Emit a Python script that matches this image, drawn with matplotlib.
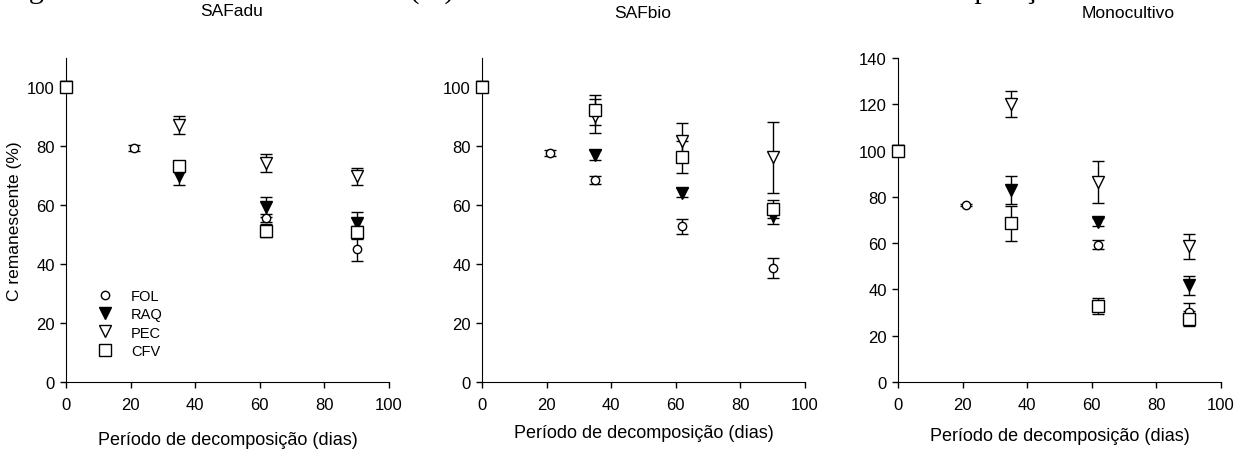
import numpy as np
import matplotlib.pyplot as plt

plt.rcParams['font.family'] = ['Liberation Sans', 'DejaVu Sans']

dias = [0, 21, 35, 62, 90]
nan = np.nan

paineis = ['SAFadu', 'SAFbio', 'Monocultivo']
residuos = ['FOL', 'RAQ', 'PEC', 'CFV']

# C remanescente (%) e erro padrao, por painel e residuo
medias = {
    'SAFadu': {
        'FOL': [100, 79.4, nan, 55.7, 45.0],
        'RAQ': [100, nan, 70.0, 59.3, 53.9],
        'PEC': [100, nan, 87.3, 74.4, 69.8],
        'CFV': [100, nan, 73.2, 51.4, 50.8],
    },
    'SAFbio': {
        'FOL': [100, 77.6, 68.6, 52.9, 38.6],
        'RAQ': [100, nan, 77.2, 64.2, 56.2],
        'PEC': [100, nan, 90.2, 81.9, 76.3],
        'CFV': [100, nan, 92.3, 76.3, 58.8],
    },
    'Monocultivo': {
        'FOL': [100, 76.5, nan, 59.4, 30.2],
        'RAQ': [100, nan, 83.0, 69.0, 41.7],
        'PEC': [100, nan, 120.1, 86.3, 58.7],
        'CFV': [100, nan, 68.6, 32.7, 27.3],
    },
}
erros = {
    'SAFadu': {
        'FOL': [0, 1.0, nan, 1.5, 4.0],
        'RAQ': [0, nan, 3.0, 3.4, 3.7],
        'PEC': [0, nan, 3.0, 3.0, 3.0],
        'CFV': [0, nan, 1.0, 2.3, 2.2],
    },
    'SAFbio': {
        'FOL': [0, 1.0, 1.3, 2.6, 3.4],
        'RAQ': [0, nan, 1.7, 1.5, 2.5],
        'PEC': [0, nan, 5.8, 6.0, 12.0],
        'CFV': [0, nan, 5.0, 5.5, 3.0],
    },
    'Monocultivo': {
        'FOL': [0, 0.5, nan, 1.8, 3.9],
        'RAQ': [0, nan, 6.2, 1.8, 4.0],
        'PEC': [0, nan, 5.7, 9.0, 5.4],
        'CFV': [0, nan, 7.6, 3.5, 3.3],
    },
}
ylims = {'SAFadu': (110, 100), 'SAFbio': (110, 100), 'Monocultivo': (140, 140)}

estilos = {
    'FOL': dict(marker='o', mfc='white', ms=6),
    'RAQ': dict(marker='v', mfc='black', ms=9),
    'PEC': dict(marker='v', mfc='white', ms=9),
    'CFV': dict(marker='s', mfc='white', ms=8),
}

W, H = 1247, 452
fig = plt.figure(figsize=(W / 100, H / 100), dpi=100)

lefts = [66, 482, 898]
titulo_x = [232, 643, 1128]
titulo_y = [12, 13, 14]
xlabel_pad = [14, 9, 11]
for i, nome in enumerate(paineis):
    ax = fig.add_axes([lefts[i] / W, (H - 383) / H, 323 / W, 324 / H])
    for r in residuos:
        y = np.array(medias[nome][r], dtype=float)
        e = np.array(erros[nome][r], dtype=float)
        eb = ax.errorbar(dias, y, yerr=e, fmt='none', ecolor='black',
                         elinewidth=1, capsize=4, capthick=1, zorder=2)
        for c in eb.get_children():
            c.set_clip_on(False)
        ax.plot(dias, y, linestyle='none', mec='black', mew=1,
                color='black', zorder=3, label=r, clip_on=False,
                **estilos[r])
    top, tmax = ylims[nome]
    ax.set_xlim(0, 100)
    ax.set_ylim(0, top)
    ax.set_xticks([0, 20, 40, 60, 80, 100])
    ax.set_yticks(np.arange(0, tmax + 1, 20))
    for s in ['top', 'right']:
        ax.spines[s].set_visible(False)
    ax.tick_params(direction='out', length=4.5, labelsize=12, width=1)
    ax.tick_params(axis='x', pad=6)
    ax.set_xlabel('Período de decomposição (dias)', fontsize=13,
                  labelpad=xlabel_pad[i])
    fig.text(titulo_x[i] / W, 1 - titulo_y[i] / H, nome, ha='center',
             va='center', fontsize=12.5)
    if i == 0:
        ax.set_ylabel('C remanescente (%)', fontsize=12.5, labelpad=4)
        ax.legend(loc='upper left', bbox_to_anchor=(0.07, 0.31), frameon=False,
                  fontsize=10.5, labelspacing=0.3, handletextpad=1.2,
                  borderpad=0, handlelength=1.2)

# legenda da figura (cortada no topo da imagem)
fig.text(4 / W, 1 + 2.5 / H,
         'Figura 3 - Carbono remanescente (%) nos resíduos de bananeira durante a decomposição',
         ha='left', va='baseline', fontsize=21.5, family='Liberation Serif')

fig.savefig('out.png', dpi=100)
